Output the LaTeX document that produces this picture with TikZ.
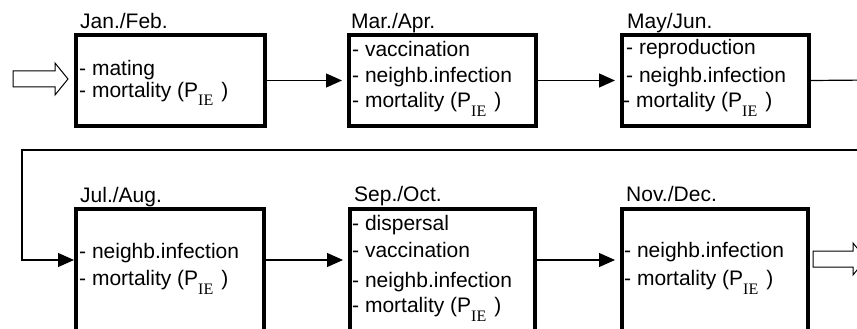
\documentclass[tikz,border=0pt]{standalone}
\usepackage{fontspec}
\setmainfont{Liberation Sans}
\newfontfamily\subserif{Liberation Serif}
\usetikzlibrary{arrows.meta}
\newcommand{\myPIE}{(P\raisebox{-9pt}{\fontsize{16}{16}\selectfont\subserif IE}\hspace{8pt})}
\begin{document}
\begin{tikzpicture}[x=1pt,y=-1pt,
  box/.style={draw, line width=4pt, inner sep=0pt},
  txt/.style={anchor=base west, inner sep=0pt, font=\fontsize{21}{25}\selectfont},
  conn/.style={line width=1.2pt, -{Triangle[length=16pt,width=14pt]}},
  plainline/.style={line width=1.2pt},
  hollow/.style={draw, line width=1pt, fill=white, line join=miter}]
\useasboundingbox (0,0) rectangle (857,329);
\clip (0,0) rectangle (857,329);
% boxes
\node[box, minimum width=189pt, minimum height=91pt] (b1) at (170.5,80.5) {};
\node[box, minimum width=187pt, minimum height=91pt] (b2) at (442.5,80.5) {};
\node[box, minimum width=187pt, minimum height=91pt] (b3) at (715.5,80.5) {};
\node[box, minimum width=188pt, minimum height=141pt] (b4) at (170,279.5) {};
\node[box, minimum width=185pt, minimum height=141pt] (b5) at (442.5,279.5) {};
\node[box, minimum width=186pt, minimum height=141pt] (b6) at (715,279.5) {};
% labels
\node[txt] (l1) at (80,29) {Jan./Feb.};
\node[txt] (l2) at (351,29) {Mar./Apr.};
\node[txt] (l3) at (627,29) {May/Jun.};
\node[txt] (l4) at (80,202) {Jul./Aug.};
\node[txt] (l5) at (354,201) {Sep./Oct.};
\node[txt] (l6) at (626,201) {Nov./Dec.};
% box texts
\node[txt] (t1a) at (79,75) {- mating};
\node[txt] (t1b) at (79,97) {- mortality \myPIE};
\node[txt] (t2a) at (352,57) {- vaccination};
\node[txt] (t2b) at (352,83) {- neighb.infection};
\node[txt] (t2c) at (352,107) {- mortality \myPIE};
\node[txt] (t3a) at (626,55) {- reproduction};
\node[txt] (t3b) at (626,82) {- neighb.infection};
\node[txt] (t3c) at (623,107) {- mortality \myPIE};
\node[txt] (t4a) at (79,258) {- neighb.infection};
\node[txt] (t4b) at (79,285) {- mortality \myPIE};
\node[txt] (t5a) at (352,230) {- dispersal};
\node[txt] (t5b) at (352,257) {- vaccination};
\node[txt] (t5c) at (352,287) {- neighb.infection};
\node[txt] (t5d) at (352,312) {- mortality \myPIE};
\node[txt] (t6a) at (624,257) {- neighb.infection};
\node[txt] (t6b) at (624,285) {- mortality \myPIE};
% connectors
\coordinate (r2) at (0,260);
\draw[conn, shorten >=5pt] (b1.east) -- (b2.west);
\draw[conn, shorten >=5pt] (b2.east) -- (b3.west);
\coordinate (e1) at (870,80);
\draw[plainline] (b3.east) -- (e1);
\coordinate (e2) at (870,150);
\coordinate (c1) at (22,150);
\coordinate (c2) at (22,260);
\draw[conn] (e2) -- (c1) -- (c2) -- (b4.west |- c2);
\draw[conn, shorten >=5pt] (b4.east |- r2) -- (b5.west |- r2);
\draw[conn, shorten >=5pt] (b5.east |- r2) -- (b6.west |- r2);
% hollow arrows
\draw[hollow] (13,71) -- (55,71) -- (55,63) -- (68,79) -- (55,95) -- (55,87) -- (13,87) -- cycle;
\draw[hollow] (813,251) -- (853,251) -- (853,243) -- (866,259) -- (853,275) -- (853,267) -- (813,267) -- cycle;
\end{tikzpicture}
\end{document}
